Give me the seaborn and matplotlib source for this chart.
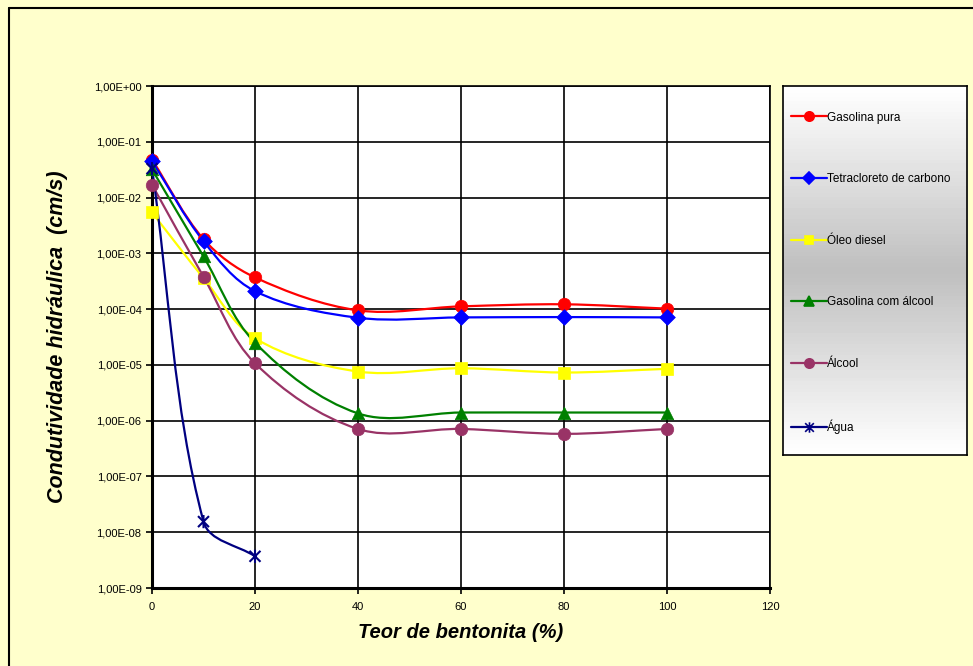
import numpy as np
import pandas as pd
import matplotlib
matplotlib.use("Agg")
import matplotlib.pyplot as plt
import seaborn as sns
from matplotlib.path import Path
from matplotlib.patches import PathPatch
from matplotlib.lines import Line2D
from matplotlib.ticker import FixedLocator, FuncFormatter

# data (cm/s vs % bentonite)
teor = [0, 10, 20, 40, 60, 80, 100]
gasolina_pura = [4.8e-2, 1.8e-3, 3.7e-4, 9.5e-5, 1.12e-4, 1.22e-4, 1.02e-4]
tetracloreto = [4.5e-2, 1.65e-3, 2.1e-4, 7.0e-5, 7.1e-5, 7.2e-5, 7.1e-5]
oleo_diesel = [5.4e-3, 3.6e-4, 3.0e-5, 7.6e-6, 8.7e-6, 7.3e-6, 8.5e-6]
gasolina_alcool = [3.2e-2, 8.8e-4, 2.5e-5, 1.35e-6, 1.4e-6, 1.4e-6, 1.4e-6]
alcool = [1.7e-2, 3.8e-4, 1.07e-5, 7.1e-7, 7.1e-7, 5.8e-7, 7.1e-7]
teor_agua = [0, 10, 20]
agua = [3.3e-2, 1.55e-8, 3.7e-9]

series = ["Gasolina pura", "Tetracloreto de carbono", "Óleo diesel",
          "Gasolina com álcool", "Álcool", "Água"]
colors = ["#FF0000", "#0000FF", "#FFFF00", "#008000", "#993366", "#000080"]

star = Path([(-1, -1), (1, 1), (-1, 1), (1, -1), (0, -1.2), (0, 1.2)],
            [Path.MOVETO, Path.LINETO] * 3)
markers = ["o", "D", "s", "^", "o", star]
msizes = [9, 8, 8, 9, 9, 10]

rows = []
for name, xs, ys in zip(series,
                        [teor] * 5 + [teor_agua],
                        [gasolina_pura, tetracloreto, oleo_diesel,
                         gasolina_alcool, alcool, agua]):
    for x, y in zip(xs, ys):
        rows.append({"Teor": x, "K": y, "Serie": name})
df = pd.DataFrame(rows)

sns.set_style("white")
plt.rcParams["font.family"] = ["Liberation Sans", "DejaVu Sans"]
plt.rcParams.update({"text.color": "black", "axes.labelcolor": "black",
                     "xtick.color": "black", "ytick.color": "black"})

bg = "#FFFFCC"
fig = plt.figure(figsize=(9.73, 6.66), dpi=100, facecolor=bg)
ax = fig.add_axes([152 / 973, 1 - 588 / 666, 618 / 973, 502 / 666])
ax.set_facecolor("white")

# pixel scale of the plot, used to shape the smoothed lines like Excel does
SX = 618 / 120
SY = 502 / 9


def smooth_path(xs, ys):
    p = np.column_stack([np.array(xs, float) * SX, np.log10(ys) * SY])
    n = len(p)
    verts = [p[0]]
    codes = [Path.MOVETO]

    def tangent(i):
        d = p[min(i + 1, n - 1)] - p[max(i - 1, 0)]
        return d / np.hypot(*d)

    for i in range(n - 1):
        seg = np.hypot(*(p[i + 1] - p[i])) / 3
        c1 = p[i] + tangent(i) * seg
        c2 = p[i + 1] - tangent(i + 1) * seg
        verts += [c1, c2, p[i + 1]]
        codes += [Path.CURVE4] * 3
    v = np.array(verts)
    v[:, 0] = v[:, 0] / SX
    v[:, 1] = 10 ** (v[:, 1] / SY)
    return Path(v, codes)


for name, c in zip(series, colors):
    sub = df[df["Serie"] == name]
    ax.add_patch(PathPatch(smooth_path(sub["Teor"], sub["K"]), fill=False,
                           edgecolor=c, lw=1.6, zorder=3))

for name, c, m, s in zip(series, colors, markers, msizes):
    sub = df[df["Serie"] == name]
    if name == "Água":
        sns.scatterplot(data=sub, x="Teor", y="K", marker=m, s=s ** 2 * 0.9,
                        facecolor="none", edgecolor=c, color=c, linewidth=1.5,
                        ax=ax, zorder=4, legend=False)
    else:
        sns.scatterplot(data=sub, x="Teor", y="K", marker=m, s=s ** 2,
                        color=c, edgecolor=c, linewidth=0.5, ax=ax,
                        zorder=4, legend=False)
for coll in ax.collections:
    coll.set_clip_on(False)

ax.set_yscale("log")
ax.set_xlim(0, 120)
ax.set_ylim(1e-9, 1)
ax.set_xticks(range(0, 121, 20))
ax.yaxis.set_major_locator(FixedLocator([10.0 ** k for k in range(-9, 1)]))
ax.yaxis.set_minor_locator(FixedLocator([]))


def sci_fmt(v, pos):
    k = int(round(np.log10(v)))
    sign = "+" if k >= 0 else "-"
    return f"1,00E{sign}{abs(k):02d}"


ax.yaxis.set_major_formatter(FuncFormatter(sci_fmt))
ax.grid(True, which="major", color="black", lw=1.2)
ax.tick_params(axis="both", labelsize=8, direction="out", length=4,
               width=1.2, color="black", labelcolor="black",
               left=True, bottom=True)
ax.tick_params(axis="x", pad=6)
for side in ["left", "bottom"]:
    ax.spines[side].set_linewidth(2.2)
for side in ["top", "right"]:
    ax.spines[side].set_linewidth(1.2)
for sp in ax.spines.values():
    sp.set_color("black")

ax.set_xlabel("Teor de bentonita (%)", fontsize=14.5, fontweight="bold",
              fontstyle="italic", labelpad=8, color="black")
ax.set_ylabel("Condutividade hidráulica  (cm/s)", fontsize=15.5,
              fontweight="bold", fontstyle="italic", labelpad=19,
              color="black")

# legend box with vertical gradient
lax = fig.add_axes([783 / 973, 1 - 455 / 666, 184 / 973, 369 / 666])
grad = np.concatenate([np.linspace(1.0, 0.75, 50), np.linspace(0.75, 1.0, 50)])
lax.imshow(grad[:, None], aspect="auto", cmap="gray", vmin=0, vmax=1,
           extent=(0, 1, 0, 1))
lax.set_xticks([])
lax.set_yticks([])
for sp in lax.spines.values():
    sp.set_color("black")
    sp.set_linewidth(1.2)

handles = []
for name, c, m, s in zip(series, colors, markers, msizes):
    handles.append(Line2D([], [], color=c, lw=1.6, marker=m,
                          markersize=s * 0.75, markerfacecolor=c,
                          markeredgecolor=c, markeredgewidth=1.2))
leg = lax.legend(handles, series, loc="upper left",
                 bbox_to_anchor=(0.0, 0.953), frameon=False, fontsize=8.5,
                 labelspacing=4.2, handlelength=3.0, handletextpad=0.05,
                 borderaxespad=0.3)
for t in leg.get_texts():
    t.set_color("black")

# border lines of the chart area (top and left only visible)
fig.add_artist(Line2D([9 / 973, 1], [1 - 8 / 666, 1 - 8 / 666],
                      color="black", lw=1.5, transform=fig.transFigure))
fig.add_artist(Line2D([9 / 973, 9 / 973], [0, 1 - 8 / 666],
                      color="black", lw=1.5, transform=fig.transFigure))

fig.savefig("out.png", dpi=100, facecolor=bg)
